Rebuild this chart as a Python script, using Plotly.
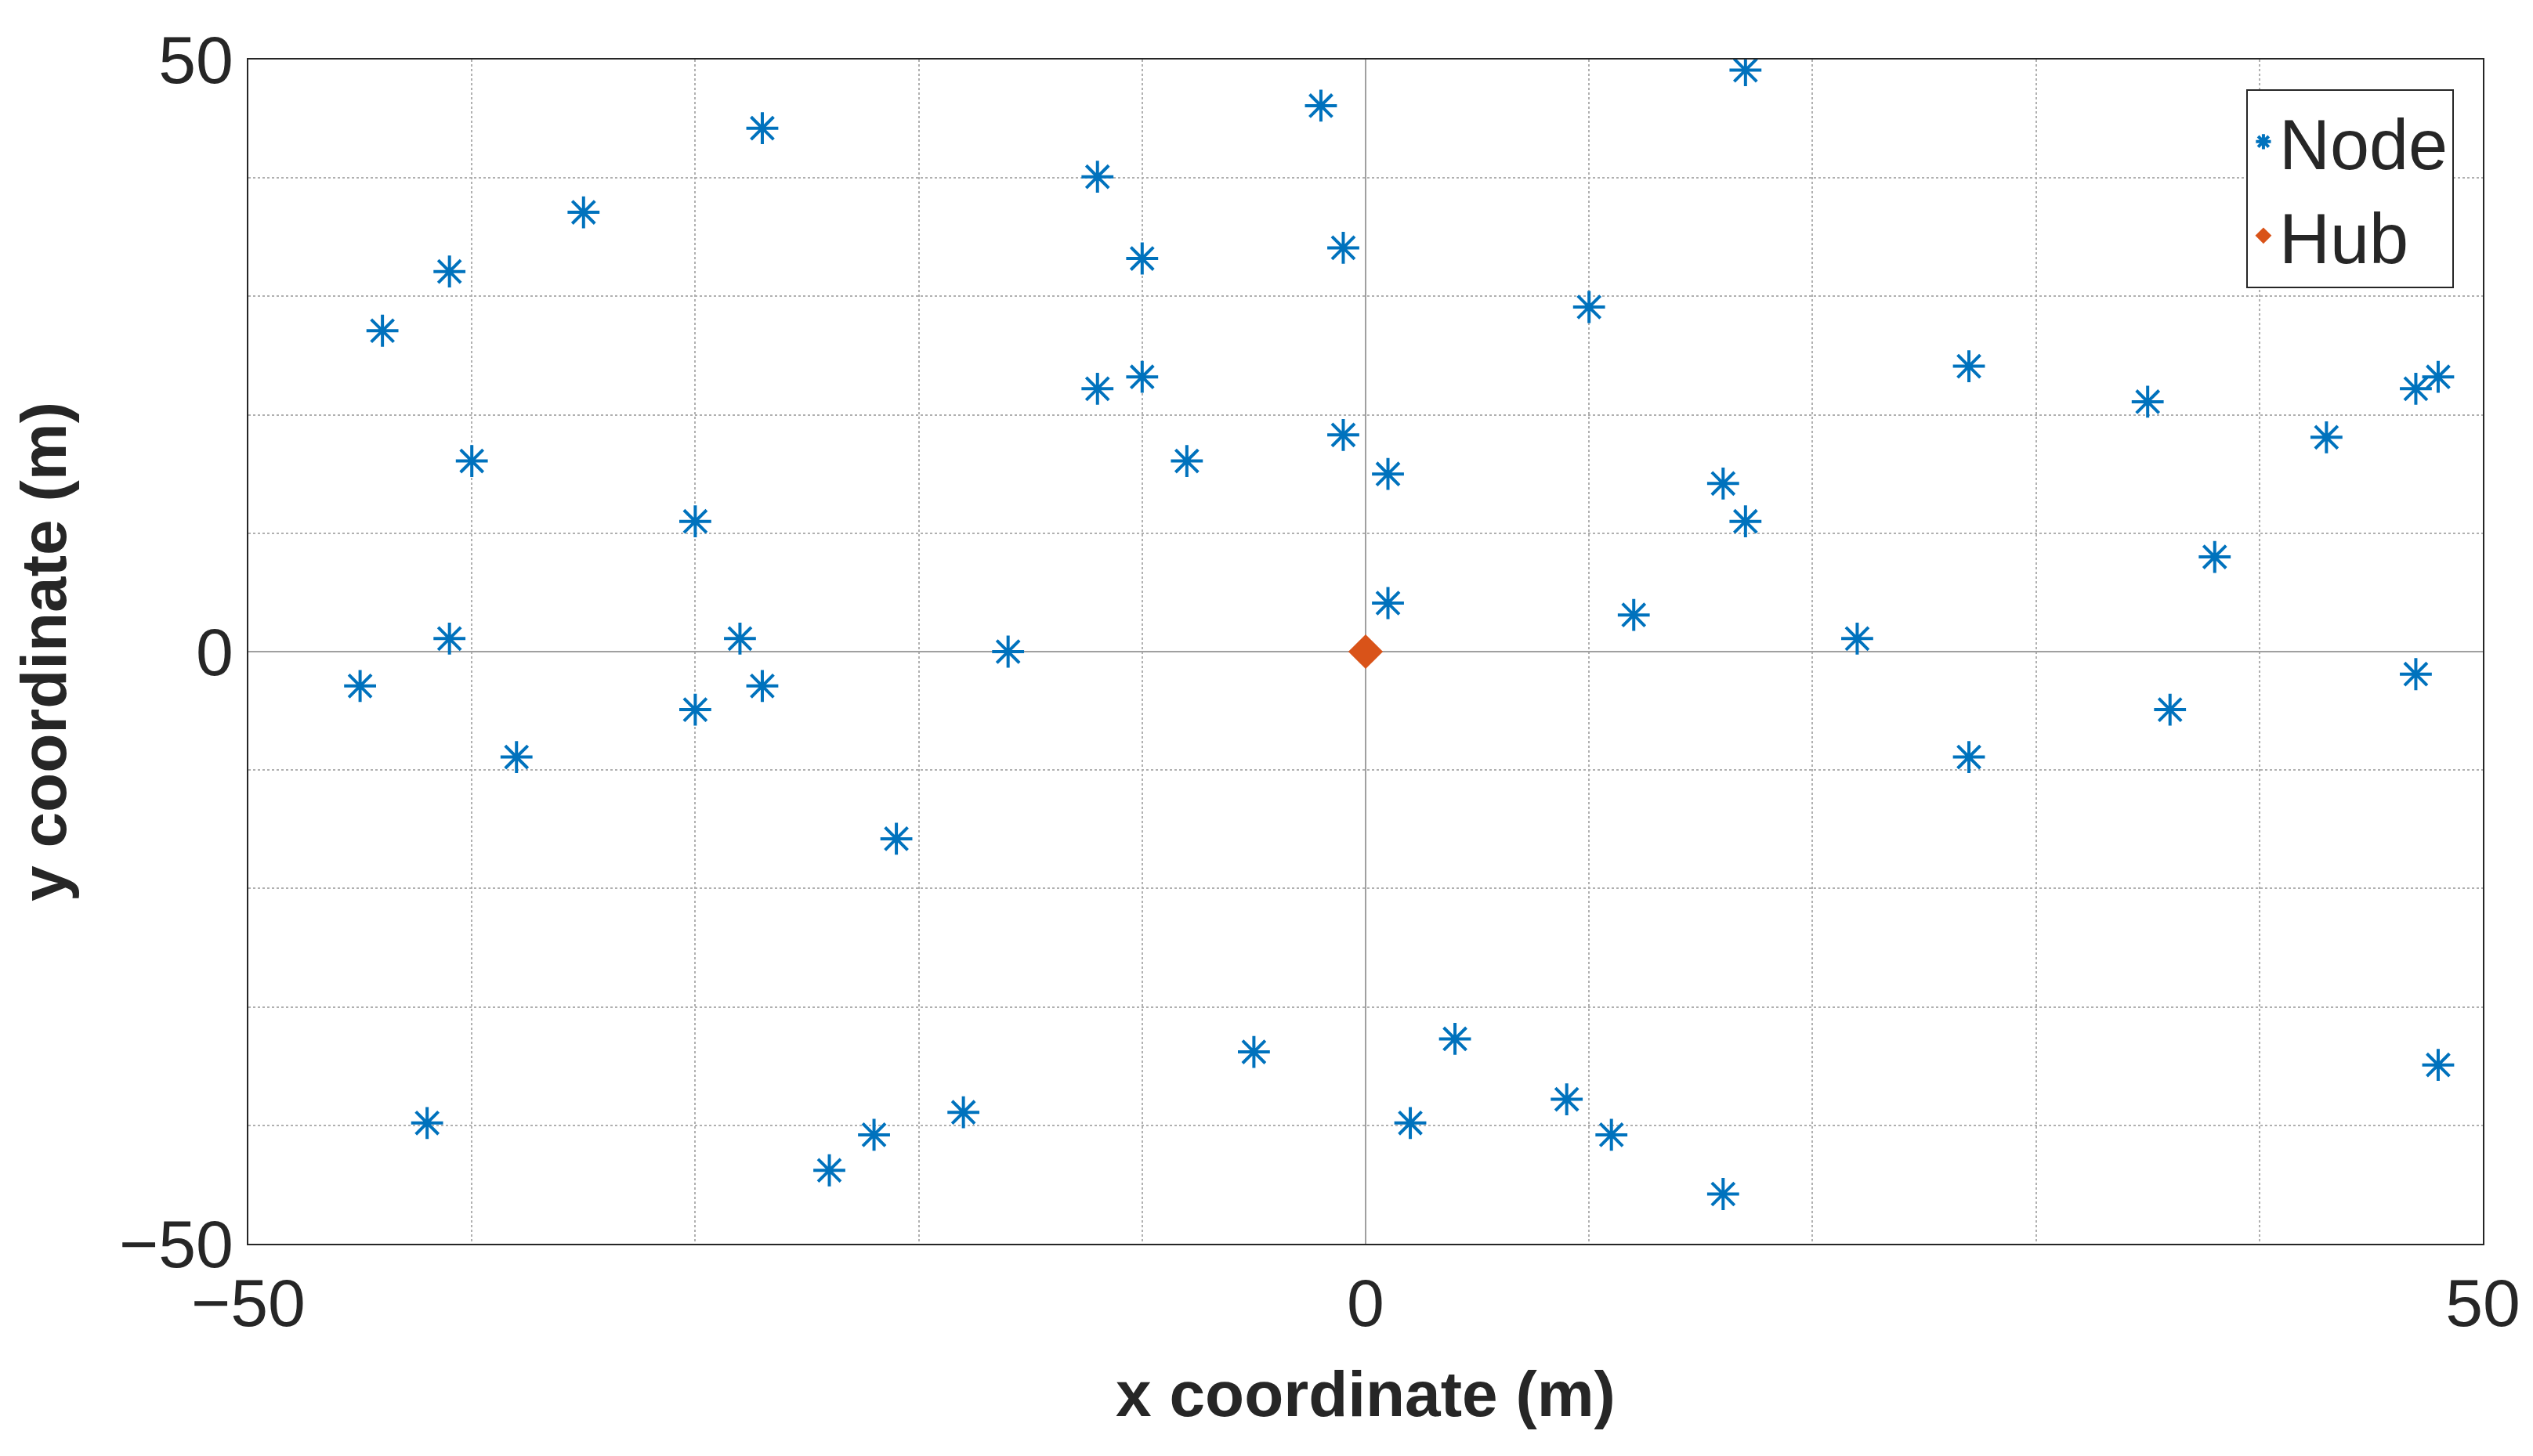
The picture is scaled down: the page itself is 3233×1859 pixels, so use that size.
import plotly.graph_objects as go

node_x = [17, -2, -27, -12, -35, -1, -10, -41, 10, -44, 27, -10, -12, 47, 48, 35, -1, 43, -40, -8, 1, 16, 17, -30, 38, 1, 12, 22, -41, -28, -16, -45, -27, 47, -30, 36, -38, 27, -21, 4, -5, 48, 9, -18, -42, 2, 11, -22, -24, 16]
node_y = [49.1, 46.1, 44.2, 40.1, 37.1, 34.1, 33.2, 32.1, 29.1, 27.1, 24.1, 23.2, 22.2, 22.2, 23.2, 21.1, 18.3, 18.1, 16.1, 16.1, 15, 14.2, 11, 11, 8, 4.1, 3.1, 1.1, 1.1, 1.1, 0, -2.9, -2.9, -1.9, -4.9, -4.9, -8.9, -8.9, -15.8, -32.7, -33.8, -34.9, -37.8, -38.9, -39.8, -39.8, -40.8, -40.8, -43.8, -45.8]
hub_x = [0]
hub_y = [0]

fig = go.Figure()
fig.add_trace(go.Scatter(x=node_x, y=node_y, mode="markers", name="Node",
    marker=dict(symbol="asterisk-open", size=34, color="#0072BD", line=dict(width=4, color="#0072BD"))))
fig.add_trace(go.Scatter(x=hub_x, y=hub_y, mode="markers", name="Hub",
    marker=dict(symbol="diamond", size=34, color="#D95319")))

axcommon = dict(showgrid=True, gridcolor="#b0b0b0", griddash="dot", gridwidth=2,
    zeroline=True, zerolinecolor="#a0a0a0", zerolinewidth=2,
    showline=True, linecolor="#262626", linewidth=2, mirror=True, ticks="",
    tickfont=dict(size=86, color="#262626"))
fig.update_layout(
    width=3233, height=1859, plot_bgcolor="white", paper_bgcolor="white",
    font=dict(family="Liberation Sans, Arial, sans-serif", color="#262626"),
    margin=dict(l=309, r=72, t=68, b=279),
    xaxis=dict(range=[-50, 50], title=dict(text="<b>x coordinate (m)</b>", font=dict(size=82), standoff=40),
               tickvals=[-50, 0, 50], **axcommon),
    yaxis=dict(range=[-50, 50], title=dict(text="<b>y coordinate (m)</b>", font=dict(size=82), standoff=40),
               tickvals=[-50, 0, 50], **axcommon),
    legend=dict(x=0.987, y=0.975, xanchor="right", yanchor="top", bgcolor="white",
                bordercolor="#262626", borderwidth=2, font=dict(size=90)),
)
fig.update_xaxes(minor=dict(dtick=10, showgrid=True, gridcolor="#b0b0b0", griddash="dot", gridwidth=2))
fig.update_yaxes(minor=dict(dtick=10, showgrid=True, gridcolor="#b0b0b0", griddash="dot", gridwidth=2))
fig.write_html("out.html")
